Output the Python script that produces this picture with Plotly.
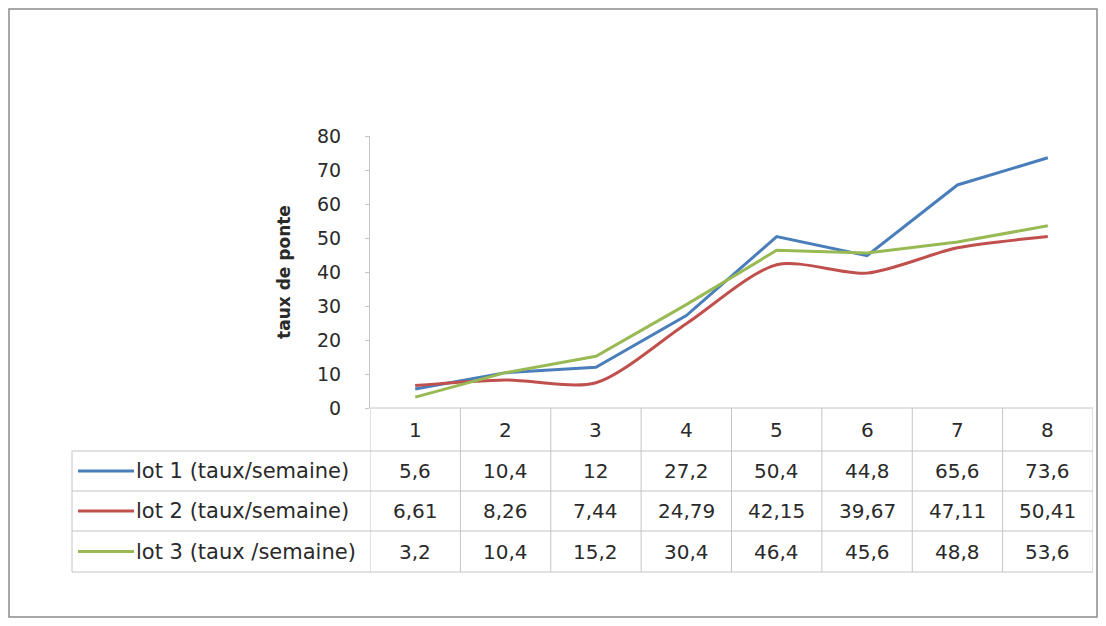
import plotly.graph_objects as go

weeks = [1, 2, 3, 4, 5, 6, 7, 8]
series_names = ["lot 1 (taux/semaine)", "lot 2 (taux/semaine)", "lot 3 (taux /semaine)"]
lot1 = [5.6, 10.4, 12, 27.2, 50.4, 44.8, 65.6, 73.6]
lot2 = [6.61, 8.26, 7.44, 24.79, 42.15, 39.67, 47.11, 50.41]
lot3 = [3.2, 10.4, 15.2, 30.4, 46.4, 45.6, 48.8, 53.6]
colors = ["#4A7EBB", "#C0504D", "#98B954"]
shapes_line = ["linear", "spline", "linear"]
y_ticks = [0, 10, 20, 30, 40, 50, 60, 70, 80]

FONT = "'DejaVu Sans', Verdana, sans-serif"
OFF = 8  # page body margin
W, H = 1106 - 2 * OFF, 626 - 2 * OFF
PL, PR, PT, PB = 370, 1093, 136, 408
L, R, T, B = PL - OFF, W - (PR - OFF), PT - OFF, H - (PB - OFF)
PW, PH = W - L - R, H - T - B


def px_x(X):
    return (X - PL) / PW


def px_y(Y):
    return (PB - Y) / PH


fig = go.Figure()
all_series = [lot1, lot2, lot3]
for name, vals, col, ls in zip(series_names, all_series, colors, shapes_line):
    fig.add_trace(go.Scatter(
        x=weeks, y=vals, mode="lines", name=name,
        line=dict(color=col, width=3, shape=ls, smoothing=0.8),
        showlegend=False,
    ))

shapes = []
annotations = []

row_bounds = [408, 451, 491, 531, 572]
table_left = 72
line_col = "#C4C4C4"
txt_col = "#2A2A2A"
TS = 20
LS = 21

shapes.append(dict(type="line", xref="paper", yref="paper", x0=0, x1=1,
                   y0=px_y(row_bounds[0]), y1=px_y(row_bounds[0]), line=dict(color=line_col, width=1)))
for yb in row_bounds[1:]:
    shapes.append(dict(type="line", xref="paper", yref="paper", x0=px_x(table_left), x1=1,
                       y0=px_y(yb), y1=px_y(yb), line=dict(color=line_col, width=1)))
for k in range(len(weeks) + 1):
    shapes.append(dict(type="line", xref="x", yref="paper", x0=k + 0.5, x1=k + 0.5,
                       y0=px_y(row_bounds[0]), y1=px_y(row_bounds[-1]), line=dict(color=line_col, width=1)))
shapes.append(dict(type="line", xref="paper", yref="paper", x0=px_x(table_left), x1=px_x(table_left),
                   y0=px_y(row_bounds[1]), y1=px_y(row_bounds[-1]), line=dict(color=line_col, width=1)))

hdr_y = px_y((row_bounds[0] + row_bounds[1]) / 2)
for w in weeks:
    annotations.append(dict(x=w, y=hdr_y, xref="x", yref="paper", text=str(w), showarrow=False,
                            xanchor="center", yanchor="middle",
                            font=dict(family=FONT, size=TS, color=txt_col)))


def fr(v):
    return f"{v:g}".replace(".", ",")


for i, (name, vals, col) in enumerate(zip(series_names, all_series, colors)):
    yc = px_y((row_bounds[i + 1] + row_bounds[i + 2]) / 2)
    for w, v in zip(weeks, vals):
        annotations.append(dict(x=w, y=yc, xref="x", yref="paper", text=fr(v), showarrow=False,
                                xanchor="center", yanchor="middle",
                                font=dict(family=FONT, size=TS, color=txt_col)))
    shapes.append(dict(type="line", xref="paper", yref="paper", x0=px_x(78), x1=px_x(134),
                       y0=yc, y1=yc, line=dict(color=col, width=3)))
    annotations.append(dict(x=px_x(134), y=yc, xref="paper", yref="paper", text=name, showarrow=False,
                            xanchor="left", yanchor="middle",
                            font=dict(family=FONT, size=LS, color=txt_col)))

shapes.append(dict(type="rect", xref="paper", yref="paper", x0=px_x(9), x1=px_x(1097),
                   y0=px_y(617), y1=px_y(9), line=dict(color="#8C8C8C", width=1.5)))

fig.update_layout(
    width=W, height=H,
    margin=dict(l=L, r=R, t=T, b=B),
    plot_bgcolor="white", paper_bgcolor="white",
    font=dict(family=FONT, size=TS, color=txt_col),
    shapes=shapes, annotations=annotations,
    xaxis=dict(range=[0.5, 8.5], showticklabels=False, showgrid=False, zeroline=False,
               showline=False, ticks=""),
    yaxis=dict(range=[0, 80], tickvals=y_ticks, showgrid=False, zeroline=False,
               showline=True, linecolor="#C4C4C4", linewidth=1, ticks="outside",
               tickcolor="#C4C4C4", ticklen=4, ticklabelstandoff=20,
               tickfont=dict(family=FONT, size=19, color=txt_col),
               title=dict(text="<b>taux de ponte</b>", font=dict(family=FONT, size=17, color=txt_col),
                          standoff=22)),
)

fig.write_html("out.html")
